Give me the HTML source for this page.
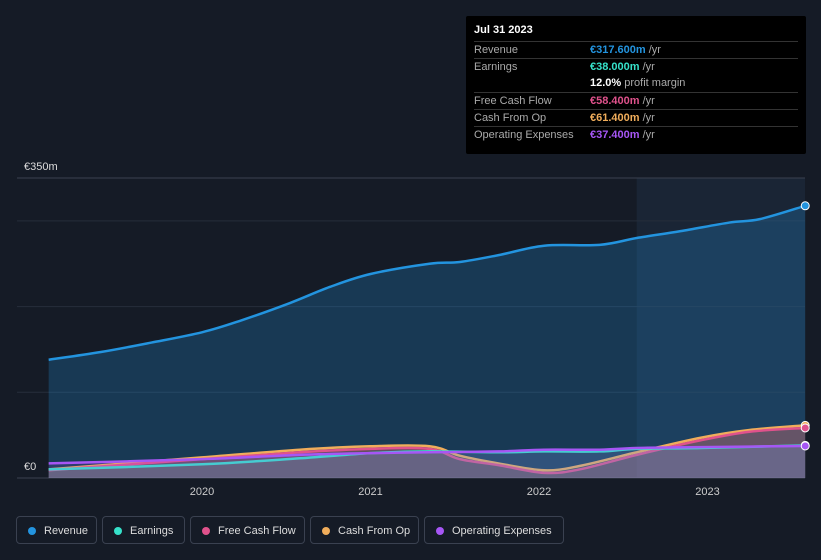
<!DOCTYPE html>
<html><head><meta charset="utf-8">
<style>
body{margin:0;background:#151b26;font-family:"Liberation Sans",sans-serif;}
#wrap{position:relative;width:821px;height:560px;overflow:hidden;background:#151b26;}
.tt{position:absolute;left:466px;top:16px;width:340px;height:138px;background:#000;border-radius:2px;color:#fff;font-size:11px;}
.tt .row{position:absolute;left:8px;width:324px;border-top:1px solid #333;height:17px;line-height:17px;}
.tt .lab{position:absolute;left:0;color:#aaa;}
.tt .val{position:absolute;left:116px;}
.legend{position:absolute;top:516px;height:28px;border:1px solid #3a4150;border-radius:4px;color:#ddd;font-size:11px;line-height:28px;box-sizing:border-box;padding-left:27px;}
.legend i{position:absolute;left:11px;top:10px;width:8px;height:8px;border-radius:50%;}
</style></head><body>
<div id="wrap">
<svg id="chart" width="821" height="560" style="position:absolute;left:0;top:0"></svg>
<div class="tt">
 <div style="position:absolute;left:8px;top:8px;font-weight:bold;font-size:11px">Jul 31 2023</div>
 <div class="row" style="top:25px"><span class="lab">Revenue</span><span class="val"><b style="color:#2394df">€317.600m</b> <span style="color:#aaa">/yr</span></span></div>
 <div class="row" style="top:42px"><span class="lab">Earnings</span><span class="val"><b style="color:#36e1ca">€38.000m</b> <span style="color:#aaa">/yr</span></span></div>
 <div class="row" style="top:59px;border-top:none"><span class="val"><b>12.0%</b> <span style="color:#aaa">profit margin</span></span></div>
 <div class="row" style="top:76px"><span class="lab">Free Cash Flow</span><span class="val"><b style="color:#e0528c">€58.400m</b> <span style="color:#aaa">/yr</span></span></div>
 <div class="row" style="top:93px"><span class="lab">Cash From Op</span><span class="val"><b style="color:#f0ad5b">€61.400m</b> <span style="color:#aaa">/yr</span></span></div>
 <div class="row" style="top:110px"><span class="lab">Operating Expenses</span><span class="val"><b style="color:#a656f5">€37.400m</b> <span style="color:#aaa">/yr</span></span></div>
</div>
<div class="legend" style="left:16px;width:81px"><i style="background:#2394df"></i>Revenue</div>
<div class="legend" style="left:102px;width:83px"><i style="background:#36e1ca"></i>Earnings</div>
<div class="legend" style="left:190px;width:115px"><i style="background:#e0528c"></i>Free Cash Flow</div>
<div class="legend" style="left:310px;width:109px"><i style="background:#f0ad5b"></i>Cash From Op</div>
<div class="legend" style="left:424px;width:140px"><i style="background:#a656f5"></i>Operating Expenses</div>
</div>
<script>
const years=[2019.09,2019.4,2019.7,2020.0,2020.22,2020.52,2020.76,2021.0,2021.35,2021.53,2021.76,2022.03,2022.36,2022.58,2022.84,2023.13,2023.31,2023.58];
const revenue=[138,147,158,170,183,204,223,238,250,252,260,271,272,280,288,298,302,317.6];
const cfYears=[2019.09,2020.0,2020.58,2021.0,2021.35,2021.53,2021.76,2022.03,2022.24,2022.58,2022.96,2023.25,2023.58];
const cashFromOp=[10,24,33,37,37,26,17,9,14,30,47,56,61.4];
const freeCashFlow=[9,22,30,34,34,22,15,6,10,27,44,54,58.4];
const earnYears=[2019.09,2020.0,2020.58,2021.0,2021.35,2021.76,2022.03,2022.36,2022.58,2022.96,2023.58];
const earnings=[10,16,23,29,31,30,31,31,34,35,38];
const opex=[17,22,27,29,30,31,33,33,35,36,37.4];
const tickYears=[2020,2021,2022,2023];
const ns="http://www.w3.org/2000/svg";
const svg=document.getElementById('chart');
const X=y=>202+(y-2020)*168.5, Y=v=>478-v*300/350;
function mk(t,a){const e=document.createElementNS(ns,t);for(const k in a)e.setAttribute(k,a[k]);svg.appendChild(e);return e;}
let e;
e=mk('rect',{x:X(2022.58),y:178,width:805-X(2022.58),height:300,fill:'#1a2535'});

[350,300,200,100].forEach(v=>{e=mk('line',{x1:17,x2:805,y1:Y(v),y2:Y(v),stroke:v==350?'#3a4150':'#262e3b'});
});
e=mk('line',{x1:17,x2:805,y1:478,y2:478,stroke:'#3a4150'});

function smooth(xs,vs){let p=xs.map((x,i)=>[X(x),Y(vs[i])]);let d='M'+p[0][0]+','+p[0][1];
for(let i=0;i<p.length-1;i++){const p0=p[Math.max(0,i-1)],p1=p[i],p2=p[i+1],p3=p[Math.min(p.length-1,i+2)];
d+=` C${p1[0]+(p2[0]-p0[0])/6},${p1[1]+(p2[1]-p0[1])/6} ${p2[0]-(p3[0]-p1[0])/6},${p2[1]-(p3[1]-p1[1])/6} ${p2[0]},${p2[1]}`;}return [d,p];}
function series(xs,vs,color,fillOp,name){const [d,p]=smooth(xs,vs);
e=mk('path',{d:d+` L${p[p.length-1][0]},478 L${p[0][0]},478 Z`,fill:color,'fill-opacity':fillOp});

e=mk('path',{d:d,fill:'none',stroke:color,'stroke-width':2.5});

e=mk('circle',{cx:p[p.length-1][0],cy:p[p.length-1][1],r:4,fill:color,stroke:'#fff','stroke-width':1});
}
series(years,revenue,'#2394df',0.25,'revenue');
series(cfYears,cashFromOp,'#f0ad5b',0.2,'cash-from-op');
series(cfYears,freeCashFlow,'#e0528c',0.2,'free-cash-flow');
series(earnYears,earnings,'#36e1ca',0.15,'earnings');
series(earnYears,opex,'#a656f5',0.15,'operating-expenses');
tickYears.forEach(y=>{e=mk('text',{x:X(y),y:495,fill:'#ccc','font-size':11,'text-anchor':'middle'});e.textContent=y;
});
e=mk('text',{x:24,y:170,fill:'#ddd','font-size':11});e.textContent='€350m';

e=mk('text',{x:24,y:470,fill:'#ddd','font-size':11});e.textContent='€0';

</script>
</body></html>
